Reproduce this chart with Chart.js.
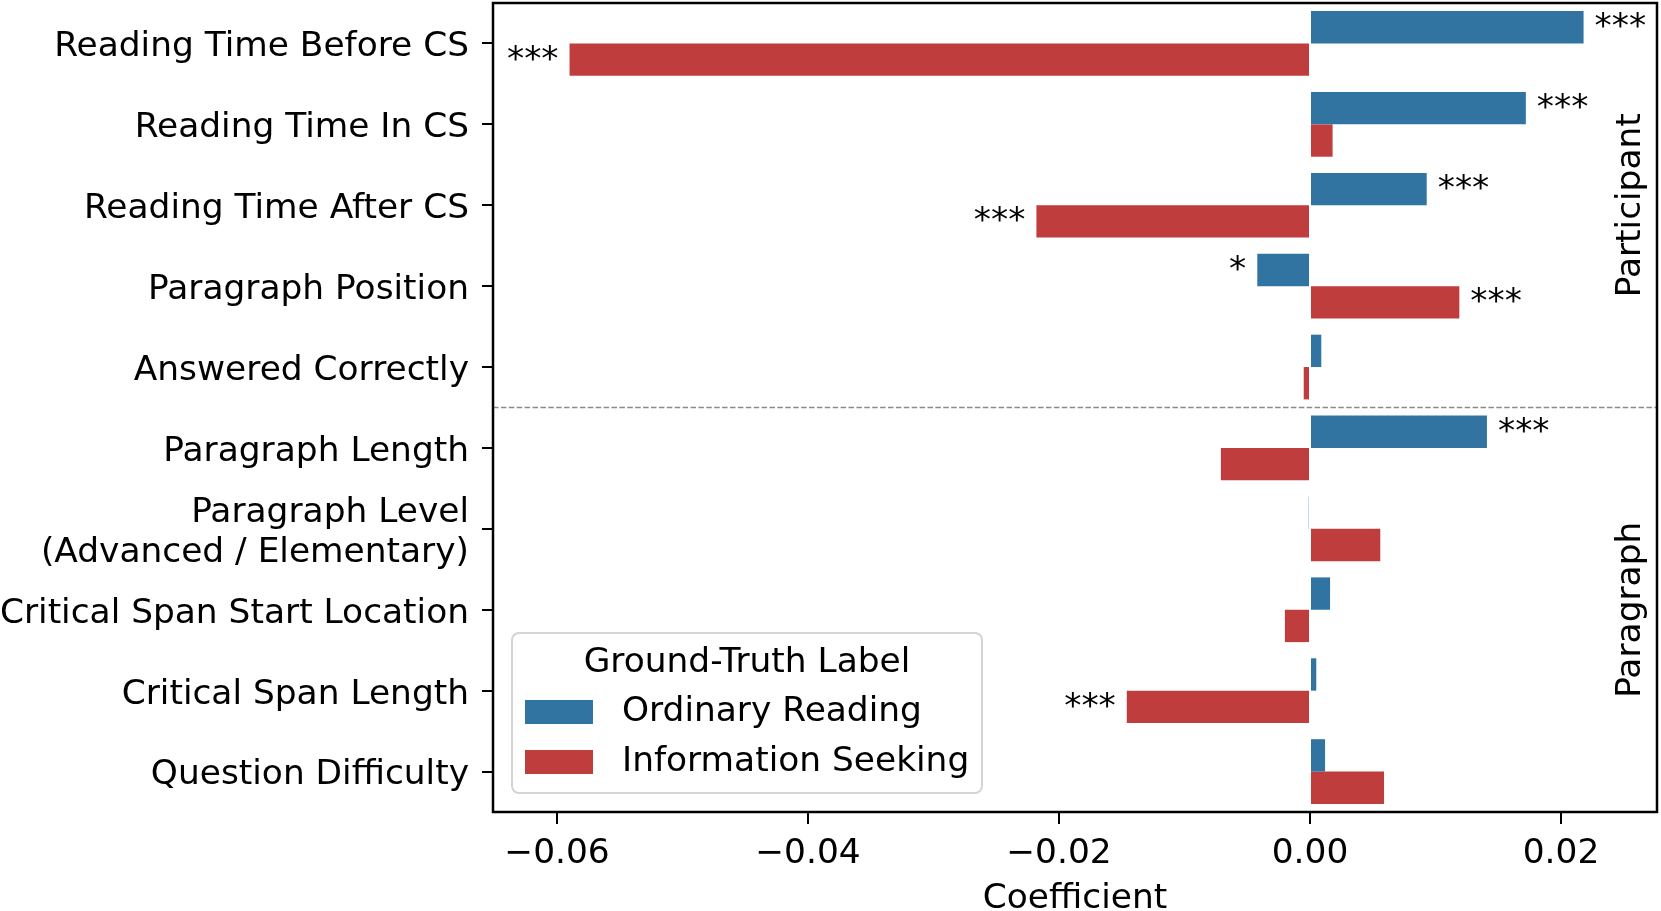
<!DOCTYPE html>
<html>
<head>
<meta charset="utf-8">
<script src="https://cdn.jsdelivr.net/npm/chart.js@4.4.0/dist/chart.umd.min.js"></script>
<style>
    html, body { margin: 0; padding: 0; background: #fff; }
    #wrap { width: 1661px; height: 911px; position: relative; }
</style>
</head>
<body>
<div id="wrap"><canvas id="coefChart"></canvas></div>
<script>
// Features, top to bottom
const features = [
    'Reading Time Before CS',
    'Reading Time In CS',
    'Reading Time After CS',
    'Paragraph Position',
    'Answered Correctly',
    'Paragraph Length',
    ['Paragraph Level', '(Advanced / Elementary)'],
    'Critical Span Start Location',
    'Critical Span Length',
    'Question Difficulty'
];

const seriesNames = ['Ordinary Reading', 'Information Seeking'];
const seriesColors = ['#3274a1', '#c03d3e'];

// Coefficients
const ordinaryReading = [0.0218, 0.0172, 0.0093, -0.0042, 0.0009, 0.0141, -0.0001, 0.0016, 0.0005, 0.0012];
const informationSeeking = [-0.0590, 0.0018, -0.0218, 0.0119, -0.0005, -0.0071, 0.0056, -0.0020, -0.0146, 0.0059];

// Significance markers
const ordinaryStars = ['***', '***', '***', '*', '', '***', '', '', '', ''];
const seekingStars = ['***', '', '***', '***', '', '', '', '', '***', ''];

const xTicks = [-0.06, -0.04, -0.02, 0.00, 0.02];
const xMin = -0.0651;
const xMax = 0.02765;

const groupNames = ['Participant', 'Paragraph'];
const groupCenters = [2, 7];   // category index in the middle of each group
const groupSplit = 4;          // dashed line below this category

const FONT = 'DejaVu Sans';
const FS = 34.4;

function fmtTick(v) {
    const s = Math.abs(v).toFixed(2);
    return v < -1e-9 ? '\u2212' + s : s;
}

// Frame around the plot area
const framePlugin = {
    id: 'frame',
    afterDraw(chart) {
        const { ctx, chartArea: a } = chart;
        ctx.save();
        ctx.strokeStyle = '#000';
        ctx.lineWidth = 2.5;
        ctx.strokeRect(a.left, a.top, a.right - a.left, a.bottom - a.top);
        ctx.restore();
    }
};

// Dashed separator and the group names on the right
const groupPlugin = {
    id: 'groups',
    afterDatasetsDraw(chart) {
        const { ctx, chartArea: a } = chart;
        const y = chart.scales.y;
        const ySplit = (y.getPixelForValue(groupSplit) + y.getPixelForValue(groupSplit + 1)) / 2;
        ctx.save();
        ctx.strokeStyle = '#8a8a8a';
        ctx.lineWidth = 1.5;
        ctx.setLineDash([5.5, 2.4]);
        ctx.beginPath();
        ctx.moveTo(a.left, ySplit);
        ctx.lineTo(a.right, ySplit);
        ctx.stroke();
        ctx.setLineDash([]);

        ctx.fillStyle = '#000';
        ctx.font = FS + 'px "' + FONT + '"';
        ctx.textAlign = 'center';
        ctx.textBaseline = 'middle';
        groupNames.forEach((name, i) => {
            const cy = y.getPixelForValue(groupCenters[i]);
            ctx.save();
            ctx.translate(a.right - 26, cy);
            ctx.rotate(-Math.PI / 2);
            ctx.fillText(name, 0, 0);
            ctx.restore();
        });
        ctx.restore();
    }
};

// Asterisks next to the bar ends
const starsPlugin = {
    id: 'stars',
    afterDatasetsDraw(chart) {
        const { ctx } = chart;
        const starSets = [ordinaryStars, seekingStars];
        ctx.save();
        ctx.fillStyle = '#000';
        ctx.font = FS + 'px "' + FONT + '"';
        ctx.textBaseline = 'middle';
        starSets.forEach((stars, di) => {
            const meta = chart.getDatasetMeta(di);
            const values = chart.data.datasets[di].data;
            meta.data.forEach((bar, j) => {
                if (!stars[j]) return;
                if (values[j] >= 0) {
                    ctx.textAlign = 'left';
                    ctx.fillText(stars[j], bar.x + 11, bar.y + 1);
                } else {
                    ctx.textAlign = 'right';
                    ctx.fillText(stars[j], bar.x - 11, bar.y + 1);
                }
            });
        });
        ctx.restore();
    }
};

// Legend box in the lower left corner of the plot
const legendPlugin = {
    id: 'boxLegend',
    afterDraw(chart) {
        const { ctx, chartArea: a } = chart;
        const w = 470, h = 160;
        const x0 = a.left + 19, y0 = a.bottom - 19 - h;
        ctx.save();
        ctx.fillStyle = 'rgba(255,255,255,0.85)';
        ctx.strokeStyle = '#d4d4d4';
        ctx.lineWidth = 2;
        ctx.beginPath();
        ctx.roundRect(x0, y0, w, h, 7);
        ctx.fill();
        ctx.stroke();

        ctx.fillStyle = '#000';
        ctx.font = FS + 'px "' + FONT + '"';
        ctx.textAlign = 'center';
        ctx.textBaseline = 'middle';
        ctx.fillText('Ground-Truth Label', x0 + w / 2, y0 + 30);

        ctx.textAlign = 'left';
        chart.data.datasets.forEach((ds, i) => {
            const cy = y0 + 79 + i * 50;
            ctx.fillStyle = ds.backgroundColor;
            ctx.fillRect(x0 + 13, cy - 12, 68, 24);
            ctx.fillStyle = '#000';
            ctx.fillText(ds.label, x0 + 110, cy);
        });
        ctx.restore();
    }
};

const ctx = document.getElementById('coefChart').getContext('2d');
new Chart(ctx, {
    type: 'bar',
    data: {
        labels: features,
        datasets: [
            {
                label: seriesNames[0],
                data: ordinaryReading,
                backgroundColor: seriesColors[0],
                borderWidth: 0
            },
            {
                label: seriesNames[1],
                data: informationSeeking,
                backgroundColor: seriesColors[1],
                borderWidth: 0
            }
        ]
    },
    options: {
        indexAxis: 'y',
        responsive: true,
        maintainAspectRatio: false,
        animation: false,
        devicePixelRatio: 1,
        layout: { padding: { top: 3, right: 4, left: 0, bottom: 0 } },
        datasets: {
            bar: { categoryPercentage: 0.8, barPercentage: 1.0 }
        },
        scales: {
            x: {
                type: 'linear',
                min: xMin,
                max: xMax,
                afterBuildTicks: scale => { scale.ticks = xTicks.map(v => ({ value: v })); },
                afterFit: scale => {
                    scale.height = 99;
                    scale.paddingLeft = 0;
                    scale.paddingRight = 0;
                },
                grid: {
                    drawOnChartArea: false,
                    drawTicks: true,
                    tickLength: 12,
                    color: '#000',
                    lineWidth: 2
                },
                border: { display: false },
                ticks: {
                    color: '#000',
                    font: { family: FONT, size: FS },
                    padding: 9,
                    maxRotation: 0,
                    callback: v => fmtTick(v)
                },
                title: {
                    display: true,
                    text: 'Coefficient',
                    color: '#000',
                    font: { family: FONT, size: FS, lineHeight: 0.7 },
                    padding: { top: 0, bottom: 0 }
                }
            },
            y: {
                afterFit: scale => {
                    scale.width = 493;
                    scale.paddingTop = 0;
                    scale.paddingBottom = 0;
                },
                grid: {
                    offset: false,
                    drawOnChartArea: false,
                    drawTicks: true,
                    tickLength: 11,
                    color: '#000',
                    lineWidth: 2
                },
                border: { display: false },
                ticks: {
                    color: '#000',
                    font: { family: FONT, size: FS, lineHeight: 1.15 },
                    padding: 13,
                    labelOffset: 4,
                    autoSkip: false
                }
            }
        },
        plugins: {
            legend: { display: false },
            tooltip: { enabled: false }
        }
    },
    plugins: [groupPlugin, starsPlugin, framePlugin, legendPlugin]
});
</script>
</body>
</html>
